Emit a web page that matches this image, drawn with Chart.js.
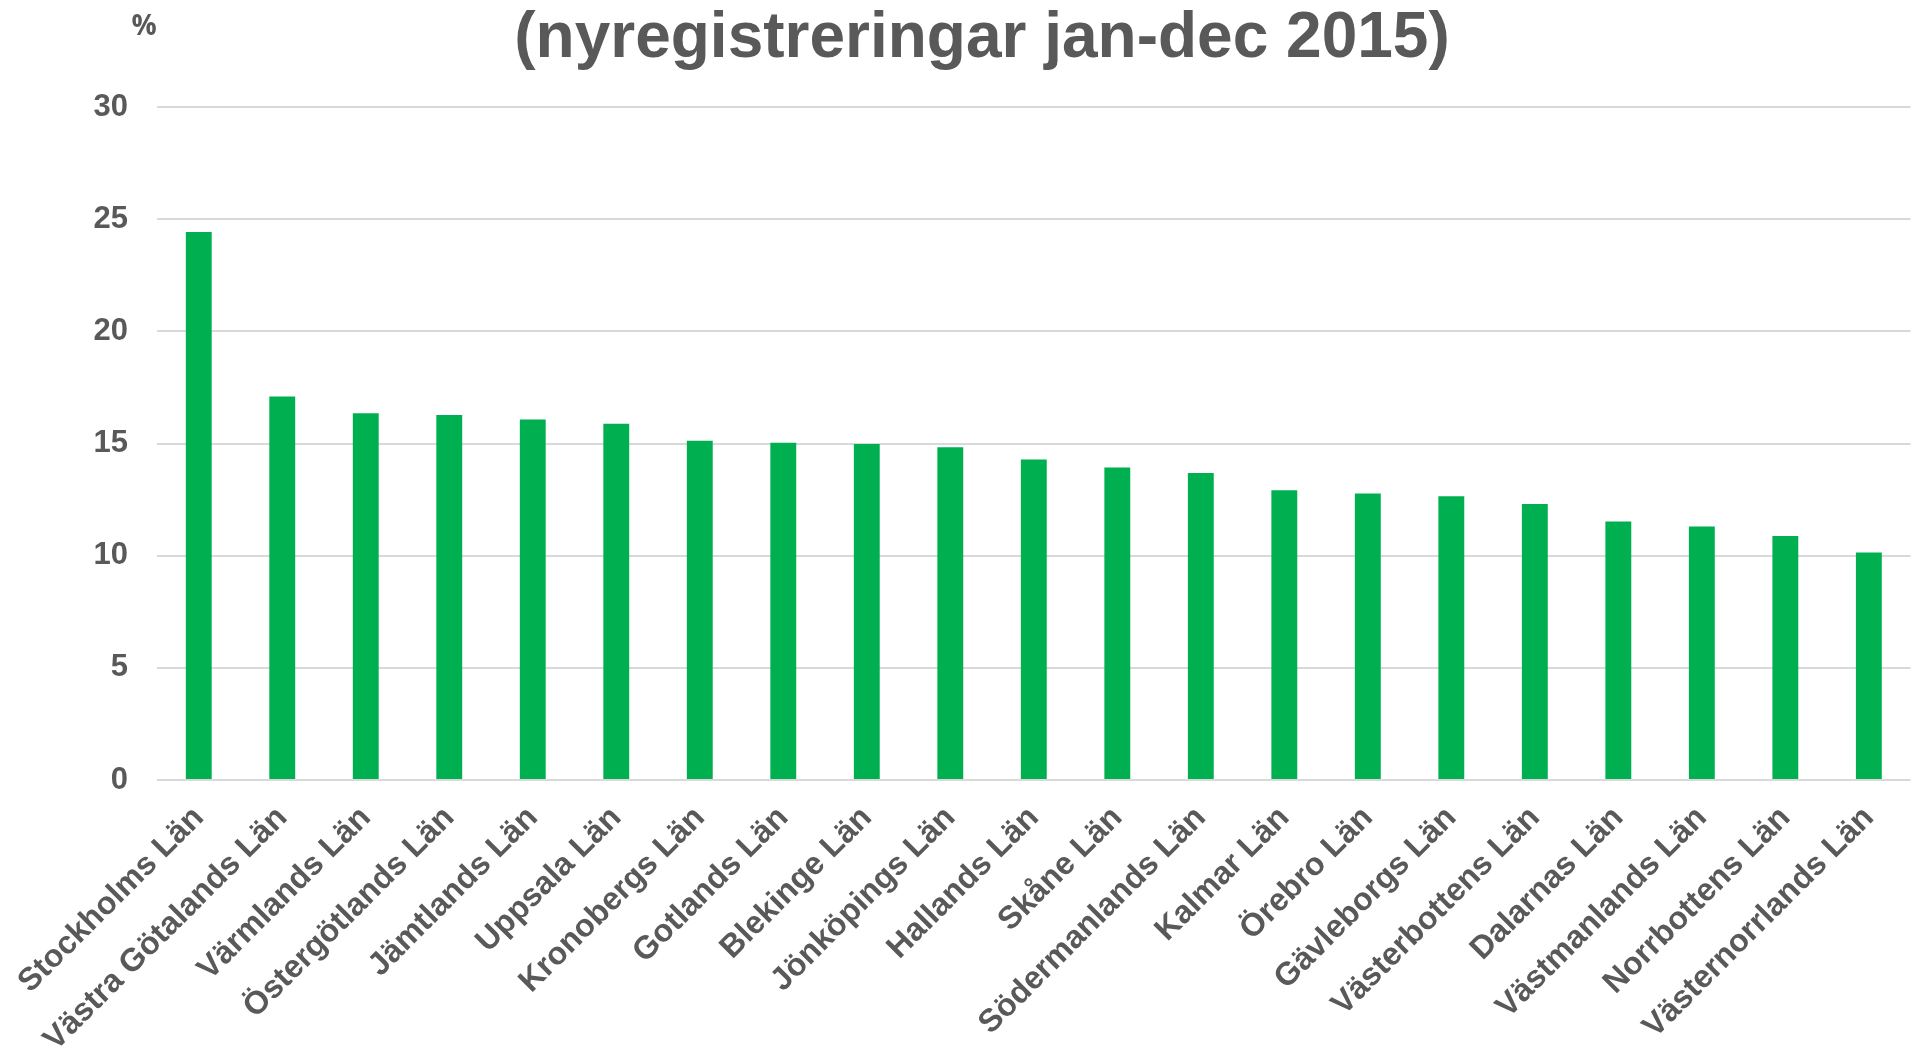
<!DOCTYPE html>
<html lang="sv">
<head>
<meta charset="utf-8">
<title>Nyregistreringar jan-dec 2015</title>
<script src="https://cdn.jsdelivr.net/npm/chart.js@4.4.1/dist/chart.umd.min.js"></script>
<style>
    html, body { margin: 0; padding: 0; background: #ffffff; overflow: hidden; }
    #ram { width: 1911px; height: 1049px; overflow: hidden; }
</style>
</head>
<body>
<!-- diagrammet fortsätter några pixlar utanför bildens högra kant, som i originalet -->
<div id="ram"><canvas id="diagram" width="1915" height="1049"></canvas></div>
<script>
/* Data */
let lan = [
    'Stockholms Län', 'Västra Götalands Län', 'Värmlands Län', 'Östergötlands Län',
    'Jämtlands Län', 'Uppsala Län', 'Kronobergs Län', 'Gotlands Län', 'Blekinge Län',
    'Jönköpings Län', 'Hallands Län', 'Skåne Län', 'Södermanlands Län', 'Kalmar Län',
    'Örebro Län', 'Gävleborgs Län', 'Västerbottens Län', 'Dalarnas Län',
    'Västmanlands Län', 'Norrbottens Län', 'Västernorrlands Län'
];
let andel = [
    24.43, 17.09, 16.35, 16.27, 16.07, 15.88, 15.12, 15.03, 14.98,
    14.83, 14.29, 13.93, 13.68, 12.92, 12.77, 12.65, 12.30, 11.52,
    11.30, 10.88, 10.14
];
let yTicks = [0, 5, 10, 15, 20, 25, 30];

let rubrik = '(nyregistreringar jan-dec 2015)';
let enhet = '%';

let gra = '#595959';
let typsnitt = '"Liberation Sans", Arial, sans-serif';

// rubrik och enhet ritas direkt på canvasen
const rubrikPlugin = {
    id: 'rubrik',
    afterDraw(chart) {
        const ctx = chart.ctx;
        ctx.save();
        ctx.fillStyle = gra;
        ctx.textAlign = 'center';
        ctx.textBaseline = 'alphabetic';
        ctx.font = 'bold 64px ' + typsnitt;
        ctx.fillText(rubrik, 982, 57);
        ctx.font = 'bold 28px "Open Sans", ' + typsnitt;
        ctx.fillText(enhet, 144, 35);
        ctx.restore();
    }
};

let grafica = new Chart(document.getElementById('diagram').getContext('2d'), {
    type: 'bar',
    data: {
        labels: lan,
        datasets: [{
            data: andel,
            backgroundColor: '#00b050',
            borderWidth: 0,
            barPercentage: 0.31,
            categoryPercentage: 1
        }]
    },
    options: {
        responsive: false,
        animation: false,
        devicePixelRatio: 1,
        layout: { padding: { top: 107, right: 0, left: 0, bottom: 0 } },
        plugins: {
            legend: { display: false },
            title: { display: false },
            tooltip: { enabled: false }
        },
        scales: {
            x: {
                grid: { display: false, drawTicks: false },
                border: { display: false },
                ticks: {
                    autoSkip: false,
                    minRotation: 45,
                    maxRotation: 45,
                    padding: 19,
                    color: gra,
                    font: { family: typsnitt, size: 32, weight: 'bold' }
                },
                afterFit: function(scale) { scale.height = 269; }
            },
            y: {
                min: 0,
                max: 30,
                afterBuildTicks: function(scale) {
                    scale.ticks = yTicks.map(v => ({ value: v }));
                },
                grid: { color: '#d9d9d9', lineWidth: 2, drawTicks: false },
                border: { display: false },
                ticks: {
                    padding: 29,
                    color: gra,
                    font: { family: typsnitt, size: 31, weight: 'bold' }
                },
                afterFit: function(scale) { scale.width = 157; }
            }
        }
    },
    plugins: [rubrikPlugin]
});
</script>
</body>
</html>
